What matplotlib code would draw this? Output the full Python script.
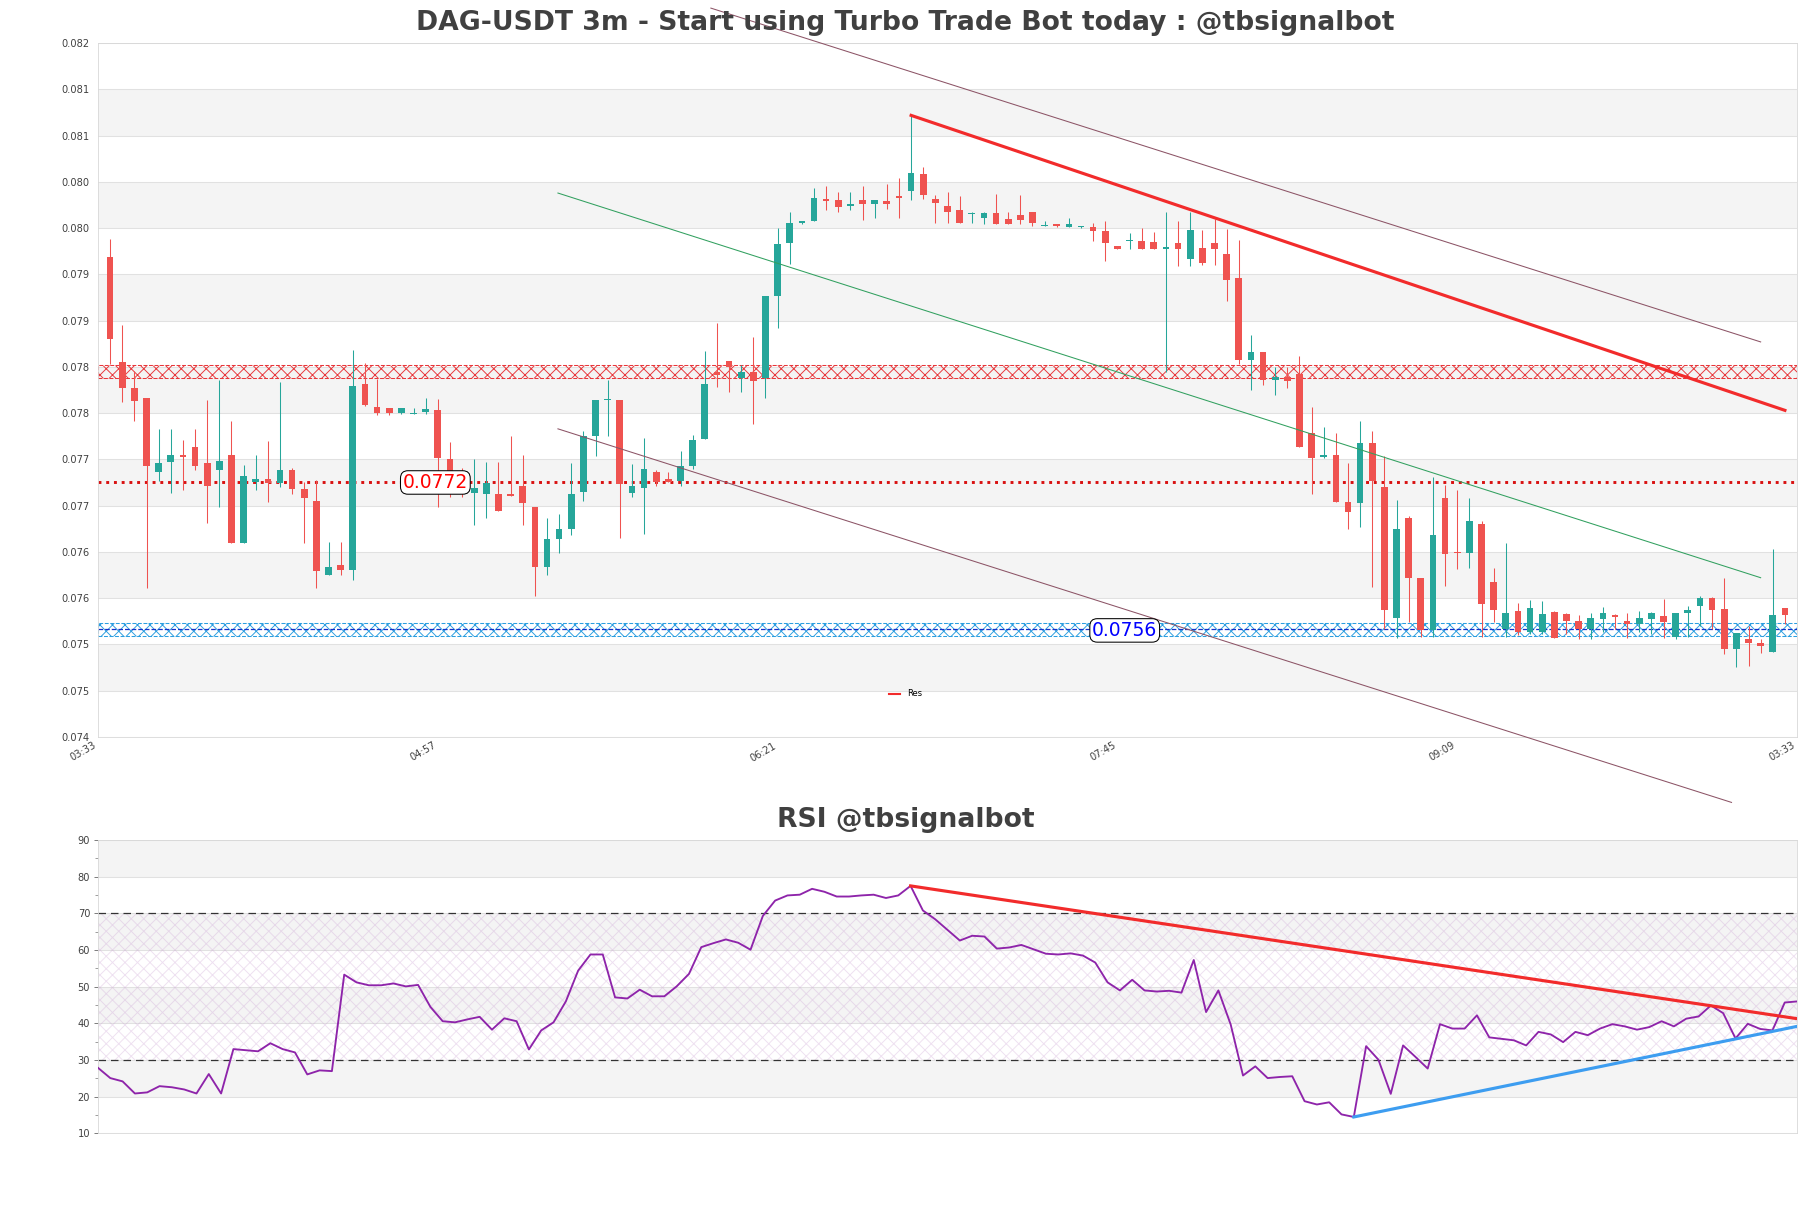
import numpy as np
import matplotlib
matplotlib.use("Agg")
import matplotlib.pyplot as plt
from matplotlib.lines import Line2D

# candles, 3m, index 1..139
opens = [0.07964, 0.07850, 0.07822, 0.07811, 0.07731, 0.07742, 0.07750, 0.07758, 0.07741, 0.07734,
         0.07750, 0.07655, 0.07720, 0.07724, 0.07719, 0.07734, 0.07713, 0.07700, 0.07620, 0.07631,
         0.07625, 0.07826, 0.07802, 0.07801, 0.07795, 0.07794, 0.07796, 0.07798, 0.07745, 0.07711,
         0.07709, 0.07707, 0.07707, 0.07708, 0.07716, 0.07693, 0.07629, 0.07659, 0.07670, 0.07710,
         0.07770, 0.07809, 0.07809, 0.07709, 0.07714, 0.07731, 0.07724, 0.07722, 0.07738, 0.07767,
         0.07840, 0.07851, 0.07833, 0.07840, 0.07833, 0.07922, 0.07979, 0.08001, 0.08003, 0.08027,
         0.08025, 0.08019, 0.08026, 0.08021, 0.08024, 0.08030, 0.08035, 0.08054, 0.08027, 0.08019,
         0.08015, 0.08010, 0.08006, 0.08011, 0.08005, 0.08009, 0.08012, 0.07997, 0.08000, 0.07996,
         0.07996, 0.07996, 0.07992, 0.07976, 0.07981, 0.07981, 0.07980, 0.07973, 0.07979, 0.07962,
         0.07974, 0.07979, 0.07967, 0.07941, 0.07852, 0.07861, 0.07831, 0.07834, 0.07837, 0.07773,
         0.07748, 0.07750, 0.07699, 0.07698, 0.07763, 0.07715, 0.07573, 0.07682, 0.07617, 0.07560,
         0.07703, 0.07645, 0.07644, 0.07675, 0.07612, 0.07562, 0.07581, 0.07558, 0.07558, 0.07580,
         0.07578, 0.07570, 0.07561, 0.07572, 0.07577, 0.07570, 0.07567, 0.07572, 0.07576, 0.07553,
         0.07579, 0.07586, 0.07595, 0.07583, 0.07540, 0.07551, 0.07546, 0.07537, 0.07584]
highs = [0.07983, 0.07890, 0.07841, 0.07811, 0.07778, 0.07778, 0.07766, 0.07778, 0.07809, 0.07831,
         0.07786, 0.07739, 0.07750, 0.07765, 0.07829, 0.07736, 0.07720, 0.07723, 0.07656, 0.07656,
         0.07863, 0.07849, 0.07832, 0.07801, 0.07801, 0.07801, 0.07811, 0.07810, 0.07764, 0.07736,
         0.07745, 0.07742, 0.07742, 0.07770, 0.07750, 0.07693, 0.07682, 0.07686, 0.07741, 0.07776,
         0.07809, 0.07831, 0.07809, 0.07740, 0.07768, 0.07733, 0.07731, 0.07754, 0.07771, 0.07862,
         0.07892, 0.07851, 0.07847, 0.07877, 0.07922, 0.07995, 0.08013, 0.08003, 0.08038, 0.08041,
         0.08034, 0.08034, 0.08041, 0.08025, 0.08043, 0.08049, 0.08117, 0.08061, 0.08031, 0.08034,
         0.08030, 0.08013, 0.08012, 0.08032, 0.08012, 0.08031, 0.08012, 0.08003, 0.08000, 0.08006,
         0.07997, 0.08001, 0.08003, 0.07976, 0.07990, 0.07995, 0.07991, 0.08012, 0.08003, 0.08012,
         0.07993, 0.08005, 0.07994, 0.07982, 0.07880, 0.07861, 0.07845, 0.07845, 0.07857, 0.07802,
         0.07780, 0.07774, 0.07741, 0.07786, 0.07776, 0.07749, 0.07701, 0.07684, 0.07617, 0.07726,
         0.07717, 0.07712, 0.07703, 0.07678, 0.07628, 0.07655, 0.07590, 0.07593, 0.07592, 0.07581,
         0.07579, 0.07577, 0.07579, 0.07585, 0.07578, 0.07579, 0.07581, 0.07580, 0.07594, 0.07579,
         0.07586, 0.07597, 0.07596, 0.07617, 0.07557, 0.07565, 0.07551, 0.07648, 0.07584]
lows = [0.07848, 0.07807, 0.07786, 0.07606, 0.07722, 0.07709, 0.07712, 0.07734, 0.07676, 0.07694,
        0.07655, 0.07655, 0.07712, 0.07699, 0.07715, 0.07707, 0.07655, 0.07606, 0.07620, 0.07620,
        0.07614, 0.07803, 0.07793, 0.07793, 0.07794, 0.07794, 0.07794, 0.07693, 0.07704, 0.07704,
        0.07674, 0.07682, 0.07689, 0.07705, 0.07674, 0.07597, 0.07620, 0.07644, 0.07663, 0.07700,
        0.07749, 0.07770, 0.07660, 0.07704, 0.07664, 0.07716, 0.07721, 0.07716, 0.07735, 0.07767,
        0.07823, 0.07818, 0.07818, 0.07783, 0.07811, 0.07887, 0.07956, 0.08000, 0.08003, 0.08015,
        0.08013, 0.08015, 0.08004, 0.08006, 0.08016, 0.08006, 0.08025, 0.08027, 0.08001, 0.08001,
        0.08001, 0.08001, 0.08000, 0.07999, 0.07999, 0.07999, 0.07997, 0.07997, 0.07996, 0.07996,
        0.07995, 0.07981, 0.07960, 0.07973, 0.07973, 0.07973, 0.07972, 0.07839, 0.07954, 0.07954,
        0.07955, 0.07955, 0.07916, 0.07848, 0.07820, 0.07825, 0.07815, 0.07822, 0.07758, 0.07708,
        0.07746, 0.07699, 0.07670, 0.07672, 0.07607, 0.07561, 0.07552, 0.07569, 0.07553, 0.07553,
        0.07608, 0.07626, 0.07628, 0.07553, 0.07569, 0.07553, 0.07555, 0.07556, 0.07556, 0.07552,
        0.07556, 0.07551, 0.07551, 0.07558, 0.07562, 0.07552, 0.07558, 0.07556, 0.07552, 0.07551,
        0.07553, 0.07565, 0.07561, 0.07534, 0.07520, 0.07521, 0.07536, 0.07537, 0.07567]
closes = [0.07875, 0.07822, 0.07808, 0.07738, 0.07741, 0.07750, 0.07748, 0.07738, 0.07716, 0.07743,
          0.07655, 0.07727, 0.07724, 0.07719, 0.07733, 0.07713, 0.07703, 0.07624, 0.07629, 0.07625,
          0.07824, 0.07804, 0.07795, 0.07795, 0.07801, 0.07795, 0.07799, 0.07747, 0.07712, 0.07709,
          0.07714, 0.07719, 0.07689, 0.07705, 0.07698, 0.07629, 0.07659, 0.07670, 0.07707, 0.07770,
          0.07809, 0.07810, 0.07718, 0.07716, 0.07735, 0.07721, 0.07721, 0.07738, 0.07766, 0.07826,
          0.07836, 0.07845, 0.07840, 0.07830, 0.07922, 0.07978, 0.08001, 0.08003, 0.08028, 0.08024,
          0.08018, 0.08021, 0.08021, 0.08025, 0.08021, 0.08028, 0.08055, 0.08031, 0.08022, 0.08012,
          0.08001, 0.08011, 0.08011, 0.07999, 0.08000, 0.08004, 0.08001, 0.07998, 0.07997, 0.07999,
          0.07996, 0.07992, 0.07979, 0.07973, 0.07982, 0.07973, 0.07972, 0.07974, 0.07972, 0.07993,
          0.07957, 0.07973, 0.07939, 0.07852, 0.07861, 0.07831, 0.07834, 0.07830, 0.07758, 0.07747,
          0.07749, 0.07699, 0.07688, 0.07763, 0.07722, 0.07582, 0.07670, 0.07617, 0.07560, 0.07663,
          0.07643, 0.07644, 0.07678, 0.07589, 0.07582, 0.07579, 0.07558, 0.07584, 0.07578, 0.07552,
          0.07570, 0.07561, 0.07573, 0.07579, 0.07575, 0.07567, 0.07573, 0.07579, 0.07569, 0.07579,
          0.07582, 0.07595, 0.07582, 0.07540, 0.07557, 0.07546, 0.07543, 0.07577, 0.07577]

rsi = [27.9, 25.1, 24.2, 20.9, 21.2, 22.9, 22.6, 22.0, 20.9, 26.2,
       20.9, 33.0, 32.7, 32.4, 34.6, 33.0, 32.1, 26.1, 27.2, 27.0,
       53.3, 51.2, 50.4, 50.4, 50.9, 50.1, 50.5, 44.5, 40.6, 40.3,
       41.1, 41.8, 38.3, 41.4, 40.6, 32.9, 38.1, 40.3, 46.0, 54.4,
       58.8, 58.8, 47.1, 46.8, 49.2, 47.4, 47.4, 50.1, 53.5, 60.8,
       61.9, 62.9, 62.0, 60.1, 69.3, 73.5, 74.9, 75.1, 76.7, 75.9,
       74.6, 74.6, 74.9, 75.1, 74.2, 74.9, 77.5, 70.8, 68.4, 65.5,
       62.6, 63.9, 63.7, 60.4, 60.7, 61.4, 60.2, 59.0, 58.8, 59.1,
       58.5, 56.6, 51.2, 49.0, 51.9, 49.0, 48.7, 48.9, 48.4, 57.3,
       43.1, 49.0, 39.7, 25.8, 28.3, 25.1, 25.4, 25.6, 18.8, 17.9,
       18.5, 15.2, 14.5, 33.8, 30.1, 20.8, 34.0, 30.9, 27.7, 39.8,
       38.6, 38.6, 42.2, 36.2, 35.8, 35.4, 34.0, 37.7, 37.0, 34.9,
       37.7, 36.8, 38.6, 39.8, 39.2, 38.3, 39.0, 40.6, 39.2, 41.3,
       41.9, 44.9, 42.8, 35.9, 39.9, 38.5, 38.1, 45.7, 46.0]

time_labels = ['03:33', '04:57', '06:21', '07:45', '09:09', '03:33']
price_ticks = ['0.074', '0.075', '0.075', '0.076', '0.076', '0.077', '0.077', '0.078',
               '0.078', '0.079', '0.079', '0.080', '0.080', '0.081', '0.081', '0.082']

res_level = 0.0772
sup_level = 0.0756
res_zone = (0.07833, 0.07847)
sup_zone = (0.07554, 0.07568)

# trendlines (x in candle index, y in price / rsi)
res_line = ((67, 139), (0.08117, 0.07798))
chan_top = ((50.5, 137.0), (0.08233, 0.07872))
chan_bot = ((37.9, 134.6), (0.07778, 0.07374))
chan_mid = ((37.9, 137.0), (0.08033, 0.07617))
rsi_res = ((67, 139), (77.5, 41.3))
rsi_sup = ((103, 139), (14.5, 39.2))

GREEN = '#26a69a'
RED = '#ef5350'
BAND = '#f4f4f4'
GRID = '#e1e1e1'
TXT = '#404040'

plt.rcParams['hatch.linewidth'] = 0.9

fig = plt.figure(figsize=(1811 / 75, 1208 / 75), dpi=75)
ax = fig.add_axes([0.0541, 0.3901, 0.9382, 0.5741])
ax2 = fig.add_axes([0.0541, 0.0617, 0.9382, 0.2429])

# --- price panel ---
ymin, ymax = 0.07445, 0.08195
yt = np.linspace(ymin, ymax, len(price_ticks))
for k in range(len(yt) - 1):
    if k % 2 == 1:
        ax.axhspan(yt[k], yt[k + 1], color=BAND, zorder=0, lw=0)
for v in yt:
    ax.axhline(v, color=GRID, lw=1, zorder=0.5)

ax.axhspan(*res_zone, facecolor='none', edgecolor='#e8363a', hatch='xx', lw=1, ls='--', zorder=2)
ax.axhspan(*sup_zone, facecolor='none', edgecolor='#2b9ee0', hatch='xx', lw=1, ls='--', zorder=2)
ax.axhline(np.mean(sup_zone), color='#1530c8', ls='--', lw=1.2, zorder=2)
ax.axhline(res_level, color='#d81010', ls=':', lw=2.8, zorder=2)

x = np.arange(1, len(opens) + 1)
o = np.array(opens); h = np.array(highs); l = np.array(lows); c = np.array(closes)
cols = np.where(c >= o, GREEN, RED)
ax.vlines(x, l, h, colors=cols, lw=1, zorder=3)
body = np.maximum(np.abs(c - o), 0.000012)
ax.bar(x, body, bottom=np.minimum(o, c), width=0.55, color=cols, zorder=3.1, lw=0)

ax.plot(*res_line, color='#f22b2b', lw=3, zorder=4, label='Res')
ax.plot(*chan_top, color='#8c5466', lw=1, zorder=4, clip_on=False)
ax.plot(*chan_bot, color='#8c5466', lw=1, zorder=4, clip_on=False)
ax.plot(*chan_mid, color='#31a05f', lw=1, zorder=4)

ax.text(27.8, res_level, '0.0772', color='red', fontsize=18, ha='center', va='center', zorder=6,
        bbox=dict(boxstyle='round,pad=0.12,rounding_size=0.4', fc='white', ec='black', lw=1))
ax.text(84.6, sup_level, '0.0756', color='blue', fontsize=18, ha='center', va='center', zorder=6,
        bbox=dict(boxstyle='round,pad=0.12,rounding_size=0.4', fc='white', ec='black', lw=1))

ax.set_xlim(0, 140)
ax.set_ylim(ymin, ymax)
ax.set_yticks(yt)
ax.set_yticklabels(price_ticks)
ax.set_xticks(np.linspace(0, 140, len(time_labels)))
ax.set_xticklabels(time_labels, rotation=30, ha='right', fontsize=8.5)
ax.tick_params(axis='both', length=0, colors=TXT, labelsize=9.5)
ax.tick_params(axis='y', pad=8)
for s in ax.spines.values():
    s.set_color('#d8d8d8')

fig.text(0.5, 0.981, 'DAG-USDT 3m - Start using Turbo Trade Bot today : @tbsignalbot',
         ha='center', va='center', fontsize=25.5, fontweight='bold', color=TXT)
fig.legend(handles=[Line2D([], [], color='#f22b2b', lw=2)], labels=['Res'], loc='center',
           bbox_to_anchor=(0.5, 0.4255), frameon=False, fontsize=8, handlelength=1.4)

# --- RSI panel ---
rt = np.arange(10, 91, 10)
for k in range(len(rt) - 1):
    if k % 2 == 1:
        ax2.axhspan(rt[k], rt[k + 1], color=BAND, zorder=0, lw=0)
for v in rt:
    ax2.axhline(v, color=GRID, lw=1, zorder=0.5)
ax2.axhspan(30, 70, facecolor='none', edgecolor=(0.78, 0.6, 0.82, 0.3), hatch='xx', lw=0, zorder=1)
ax2.axhline(70, color='#333333', ls=(0, (6, 4)), lw=1.2, zorder=2)
ax2.axhline(30, color='#333333', ls=(0, (6, 4)), lw=1.2, zorder=2)

xr = np.arange(1, len(rsi) + 1)
ax2.plot(xr, rsi, color='#8e24aa', lw=1.8, zorder=3)
ax2.plot(*rsi_res, color='#f22b2b', lw=3, zorder=4)
ax2.plot(*rsi_sup, color='#3d9df0', lw=3, zorder=4)

ax2.set_xlim(1, len(rsi))
ax2.set_ylim(10, 90)
ax2.set_yticks(rt)
ax2.set_yticks(np.arange(15, 90, 10), minor=True)
ax2.set_xticks([])
ax2.tick_params(axis='y', which='both', length=4, color='#666666', colors=TXT, labelsize=9.5)
ax2.tick_params(axis='y', which='minor', length=3)
for s in ax2.spines.values():
    s.set_color('#d8d8d8')

fig.text(0.5, 0.321, 'RSI @tbsignalbot', ha='center', va='center', fontsize=25.5,
         fontweight='bold', color=TXT)

fig.savefig('out.png', dpi=75)
